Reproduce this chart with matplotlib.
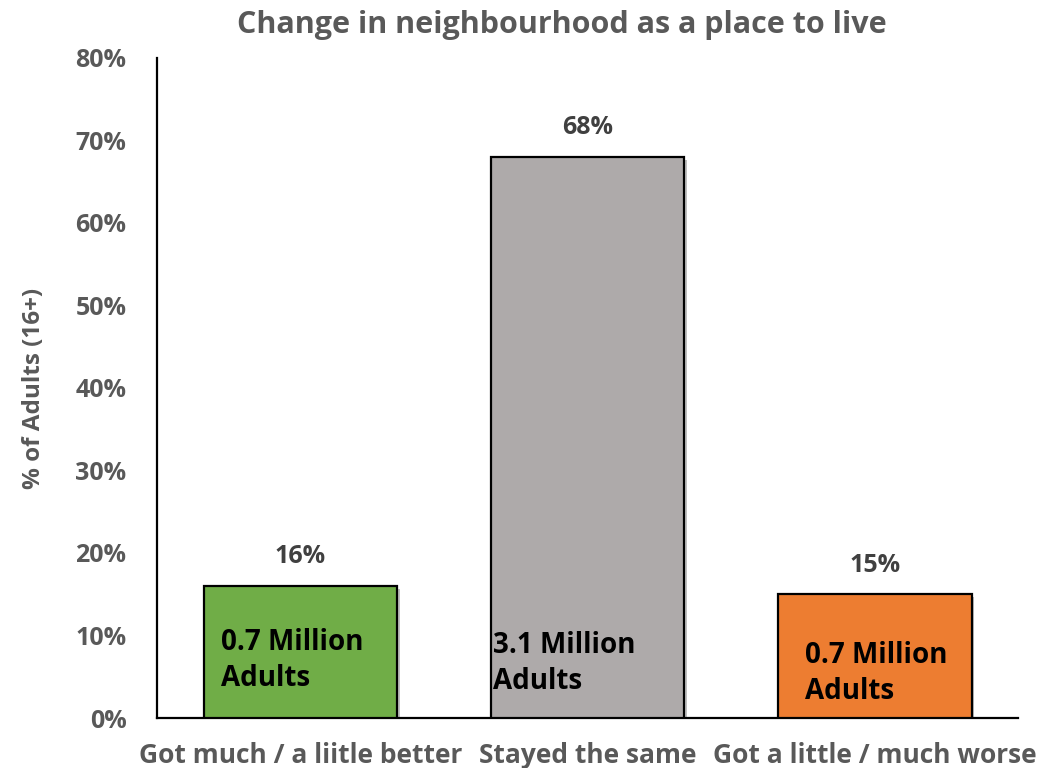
import matplotlib
matplotlib.use("Agg")
import matplotlib.pyplot as plt
import matplotlib.patheffects as pe
from matplotlib.ticker import FuncFormatter

categories = ["Got much / a liitle better", "Stayed the same", "Got a little / much worse"]
percentages = [16, 68, 15]
inner_labels = ["0.7 Million\nAdults", "3.1 Million\nAdults", "0.7 Million\nAdults"]
inner_label_y = [7.0, 6.6, 5.4]
inner_label_dx = [-0.03, -0.08, 0.005]
bar_colors = ["#70AD47", "#AEAAAA", "#ED7D31"]
y_ticks = [0, 10, 20, 30, 40, 50, 60, 70, 80]

plt.rcParams["font.family"] = ["Open Sans", "DejaVu Sans"]
plt.rcParams["font.weight"] = "bold"

fig = plt.figure(figsize=(10.4, 7.68), dpi=100)
ax = fig.add_axes([0.151, 0.0651, 0.828, 0.8594])

x = list(range(len(categories)))
bars = ax.bar(x, percentages, width=0.675, color=bar_colors,
              edgecolor="black", linewidth=1.6, zorder=3)
for b in bars:
    b.set_path_effects([pe.SimplePatchShadow(offset=(2, -2), alpha=0.25,
                                             shadow_rgbFace="black"),
                        pe.Normal()])

for xi, v in zip(x, percentages):
    ax.annotate(f"{v}%", (xi, v), xytext=(0, 21), textcoords="offset points",
                ha="center", va="center", fontsize=18, fontweight="bold",
                color="#404040")

for xi, lab, ly, dx in zip(x, inner_labels, inner_label_y, inner_label_dx):
    ax.text(xi + dx, ly, lab, ha="center", va="center", multialignment="left",
            fontsize=20, fontweight="bold", color="black", linespacing=1.3,
            zorder=4)

ax.set_xlim(-0.5, 2.5)
ax.set_ylim(0, 80)
ax.set_yticks(y_ticks)
ax.yaxis.set_major_formatter(FuncFormatter(lambda v, p: f"{v:.0f}%"))
ax.set_xticks(x)
ax.set_xticklabels(categories)
ax.tick_params(axis="both", length=0, labelcolor="#595959")
ax.tick_params(axis="y", labelsize=18, pad=22)
ax.tick_params(axis="x", labelsize=19, pad=17)
for lbl in ax.get_xticklabels() + ax.get_yticklabels():
    lbl.set_fontweight("bold")

for s in ["top", "right"]:
    ax.spines[s].set_visible(False)
for s in ["left", "bottom"]:
    ax.spines[s].set_linewidth(1.6)
    ax.spines[s].set_color("black")

ax.set_ylabel("% of Adults (16+)", fontsize=17.5, fontweight="bold",
              color="#595959", labelpad=21)
fig.text(0.54, 0.968, "Change in neighbourhood as a place to live",
         ha="center", va="center", fontsize=22, fontweight="bold",
         color="#595959")

fig.savefig("out.png", dpi=100)
